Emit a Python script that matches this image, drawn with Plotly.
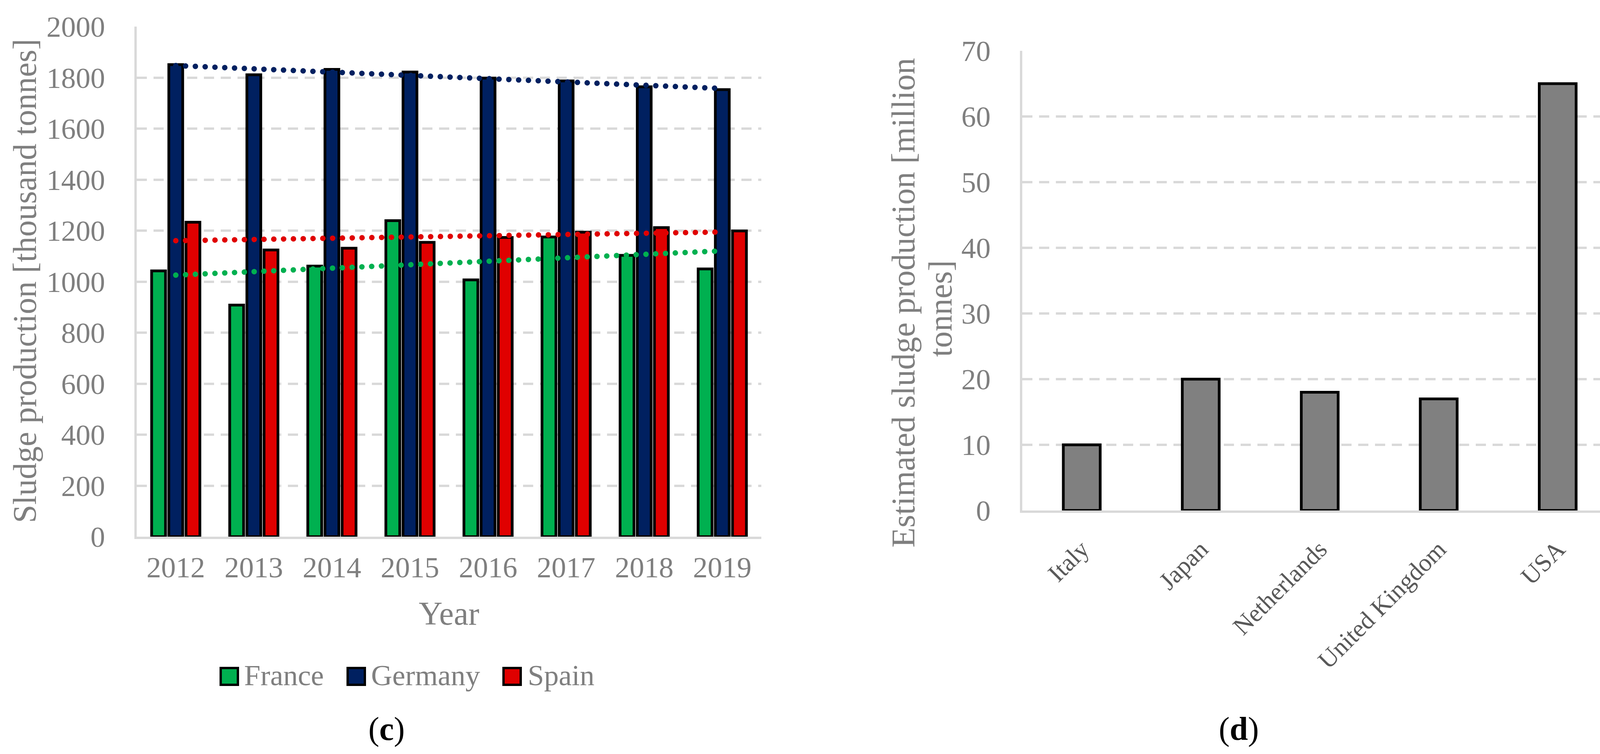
import numpy as np
import plotly.graph_objects as go

# ---------------- data ----------------
years = ["2012", "2013", "2014", "2015", "2016", "2017", "2018", "2019"]
france = [1042, 908, 1061, 1239, 1007, 1175, 1103, 1050]
germany = [1851, 1811, 1832, 1822, 1798, 1787, 1764, 1753]
spain = [1233, 1124, 1131, 1154, 1173, 1194, 1212, 1199]

series_names = ["France", "Germany", "Spain"]
series_values = [france, germany, spain]

countries = ["Italy", "Japan", "Netherlands", "United Kingdom", "USA"]
estimated = [10, 20, 18, 17, 65]

left_y_title = "Sludge production [thousand tonnes]"
right_y_title_lines = ["Estimated sludge production [million", "tonnes]"]

# ---------------- styles ----------------
W, H = 4182, 1929
FONT = "Liberation Serif"
TICK_GRAY = "#7F7F7F"
GRID = "#D9D9D9"
series_colors = ["#00B050", "#002060", "#E00000"]

def px_x(p):
    return p / W

def px_y(p):
    return 1 - p / H

fig = go.Figure()

# grouped bars (left panel)
for name, vals, col in zip(series_names, series_values, series_colors):
    fig.add_trace(go.Bar(
        x=years, y=vals, name=name,
        marker=dict(color=col, line=dict(color="black", width=7)),
        xaxis="x", yaxis="y", showlegend=False,
    ))

# linear trend lines (least squares fit of each series, like Excel's linear trendline)
idx = np.arange(len(years))
for name, vals, col in zip(series_names, series_values, series_colors):
    coef = np.polyfit(idx, np.array(vals, dtype=float), 1)
    trend = np.polyval(coef, idx)
    fig.add_trace(go.Scatter(
        x=years, y=trend, mode="lines", name=name + " trend",
        line=dict(color=col, width=14, dash="0.1px,25px"),
        xaxis="x", yaxis="y", showlegend=False, hoverinfo="skip",
    ))

# right panel bars
fig.add_trace(go.Bar(
    x=countries, y=estimated, name="Estimated sludge production",
    marker=dict(color="#808080", line=dict(color="black", width=7)),
    width=0.31, xaxis="x2", yaxis="y2", showlegend=False,
))

axis_common = dict(
    showline=True, linecolor=GRID, linewidth=6,
    ticks="", zeroline=False, automargin=False,
)

fig.update_layout(
    template="none",
    width=W, height=H,
    margin=dict(l=0, r=0, t=0, b=0, pad=0),
    paper_bgcolor="white", plot_bgcolor="white",
    font=dict(family=FONT, color=TICK_GRAY),
    barmode="group", bargap=0.34, bargroupgap=0.19,
    showlegend=False,
    xaxis=dict(
        domain=[px_x(350), px_x(1949)], anchor="y", type="category",
        showgrid=False, tickfont=dict(size=75, color=TICK_GRAY),
        ticklabelstandoff=8,
        title=dict(text="Year", font=dict(size=84, color=TICK_GRAY), standoff=49),
        **axis_common,
    ),
    yaxis=dict(
        domain=[px_y(1373), px_y(68)], anchor="x",
        range=[0, 2000], dtick=200,
        showgrid=True, gridcolor=GRID, gridwidth=6, griddash="26px,17px",
        tickfont=dict(size=75, color=TICK_GRAY),
        ticklabelstandoff=60,
        **axis_common,
    ),
    xaxis2=dict(
        domain=[px_x(2617), px_x(4140)], anchor="y2", type="category",
        showgrid=False, tickangle=-45,
        tickfont=dict(size=64, color="#595959"),
        ticklabelstandoff=30,
        **axis_common,
    ),
    yaxis2=dict(
        domain=[px_y(1306), px_y(130)], anchor="x2",
        range=[0, 70], dtick=10,
        showgrid=True, gridcolor=GRID, gridwidth=6, griddash="26px,17px",
        tickfont=dict(size=75, color=TICK_GRAY),
        ticklabelstandoff=60,
        **axis_common,
    ),
)

shapes = []
annotations = []

# y-axis titles (rotated text)
annotations.append(dict(
    text=left_y_title, xref="paper", yref="paper",
    x=px_x(63), y=px_y(719), xanchor="center", yanchor="middle",
    textangle=-90, showarrow=False,
    font=dict(family=FONT, size=84, color=TICK_GRAY),
))
for line, cx, cy in zip(right_y_title_lines, [2312, 2407], [775, 790]):
    annotations.append(dict(
        text=line, xref="paper", yref="paper",
        x=px_x(cx), y=px_y(cy), xanchor="center", yanchor="middle",
        textangle=-90, showarrow=False,
        font=dict(family=FONT, size=84, color=TICK_GRAY),
    ))

# custom legend (large swatches like the original)
legend_swatch_x = [565, 890, 1289]
legend_text_x = [623, 948, 1349]
for name, col, sx, tx in zip(series_names, series_colors, legend_swatch_x, legend_text_x):
    shapes.append(dict(
        type="rect", xref="paper", yref="paper",
        x0=px_x(sx), x1=px_x(sx + 44), y0=px_y(1752), y1=px_y(1709),
        fillcolor=col, line=dict(color="black", width=6),
    ))
    annotations.append(dict(
        text=name, xref="paper", yref="paper", x=px_x(tx), y=px_y(1727),
        xanchor="left", yanchor="middle", showarrow=False,
        font=dict(family=FONT, size=75, color=TICK_GRAY),
    ))

# panel labels
for lab, cx in [("c", 989), ("d", 3171)]:
    annotations.append(dict(
        text="(<b>%s</b>)" % lab, xref="paper", yref="paper",
        x=px_x(cx), y=px_y(1865), xanchor="center", yanchor="middle",
        showarrow=False, font=dict(family=FONT, size=84, color="black"),
    ))

fig.update_layout(shapes=shapes, annotations=annotations)

post = ("document.body.style.margin='0';document.body.style.padding='0';"
        "var s=document.createElement('style');"
        "s.innerHTML='body{margin:0;padding:0;} .scatterlayer .js-line{stroke-linecap:round !important;}';"
        "document.head.appendChild(s);")
fig.write_html("out.html", post_script=post, config={"displayModeBar": False})
